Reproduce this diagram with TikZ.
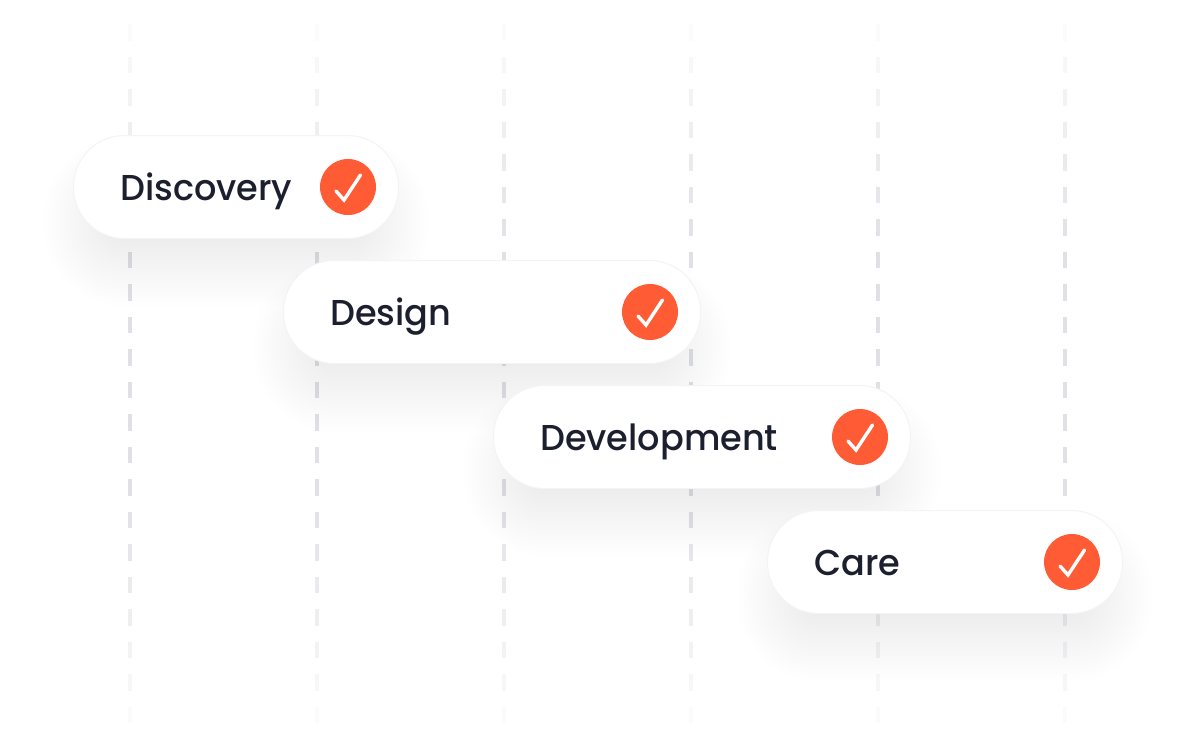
\documentclass[tikz,border=0pt]{standalone}
\usepackage{fontspec}
\setmainfont{Poppins Medium}
\definecolor{inkc}{HTML}{1B1F2E}
\definecolor{orangec}{HTML}{FF5C35}
\definecolor{dashc}{HTML}{E0E1E5}
\definecolor{edgec}{HTML}{F3F4F7}
\definecolor{shadec}{HTML}{20263A}
\tikzset{
  x=1pt,y=-1pt,
  gridline/.style={fill=dashc,draw=none},
  pill/.style={draw=edgec,line width=1pt,fill=white,rounded corners=51pt,inner sep=0pt,minimum height=103pt},
  pilllabel/.style={text=inkc,font=\fontsize{36}{36}\selectfont,anchor=base west,inner sep=0pt,xscale=.975},
  badge/.style={circle,fill=orangec,draw=none,minimum size=56pt,inner sep=0pt},
  tick/.style={draw=white,line width=3.4pt,line cap=round,line join=miter}
}
\newcommand{\softshadow}[4]{%
  \foreach \k in {0,...,23}{%
    \pgfmathsetmacro{\ex}{46-\k*3.8}%
    \fill[shadec,opacity=0.0042,rounded corners={max(1,51+\ex-16)*1pt}]
      (#1-\ex+16,#2+46-\ex) rectangle (#3+\ex-16,#4+22+\ex);
  }%
}
\begin{document}
\begin{tikzpicture}
\useasboundingbox (0,0) rectangle (1196,748);
\fill[white] (0,0) rectangle (1196,748);
% fading dashed grid
\foreach \gx in {130,317,504,691,878,1065}{
  \foreach \i in {0,...,21}{
    \pgfmathsetmacro{\yy}{24+32.52*\i}
    \pgfmathsetmacro{\edge}{min(\i,21-\i)}
    \pgfmathsetmacro{\op}{min(1,0.12+0.13*\edge)}
    \fill[gridline,opacity=\op] (\gx-2,\yy) rectangle (\gx+2,\yy+16.5);
  }
}
% pills
\softshadow{74}{136}{398}{238}
\node[pill,minimum width=325pt] (p1) at (236,187) {};
\softshadow{284}{261}{700}{363}
\node[pill,minimum width=417pt] (p2) at (492,312) {};
\softshadow{494}{386}{910}{488}
\node[pill,minimum width=417pt] (p3) at (702,437) {};
\softshadow{768}{511}{1122}{613}
\node[pill,minimum width=355pt] (p4) at (945,562) {};
% labels
\node[pilllabel] (t1) at (120,200) {Discovery};
\node[pilllabel] (t2) at (330,325) {Design};
\node[pilllabel] (t3) at (540,450) {Development};
\node[pilllabel] (t4) at (814,575) {Care};
% badges
\foreach \n/\cx/\cy in {b1/348/187,b2/650/312,b3/860/437,b4/1072/562}{
  \node[badge] (\n) at (\cx,\cy) {};
  \draw[tick] ([shift={(-12,4)}]\n.center) -- ([shift={(-4,13)}]\n.center) -- ([shift={(12.5,-12)}]\n.center);
}
\end{tikzpicture}
\end{document}
